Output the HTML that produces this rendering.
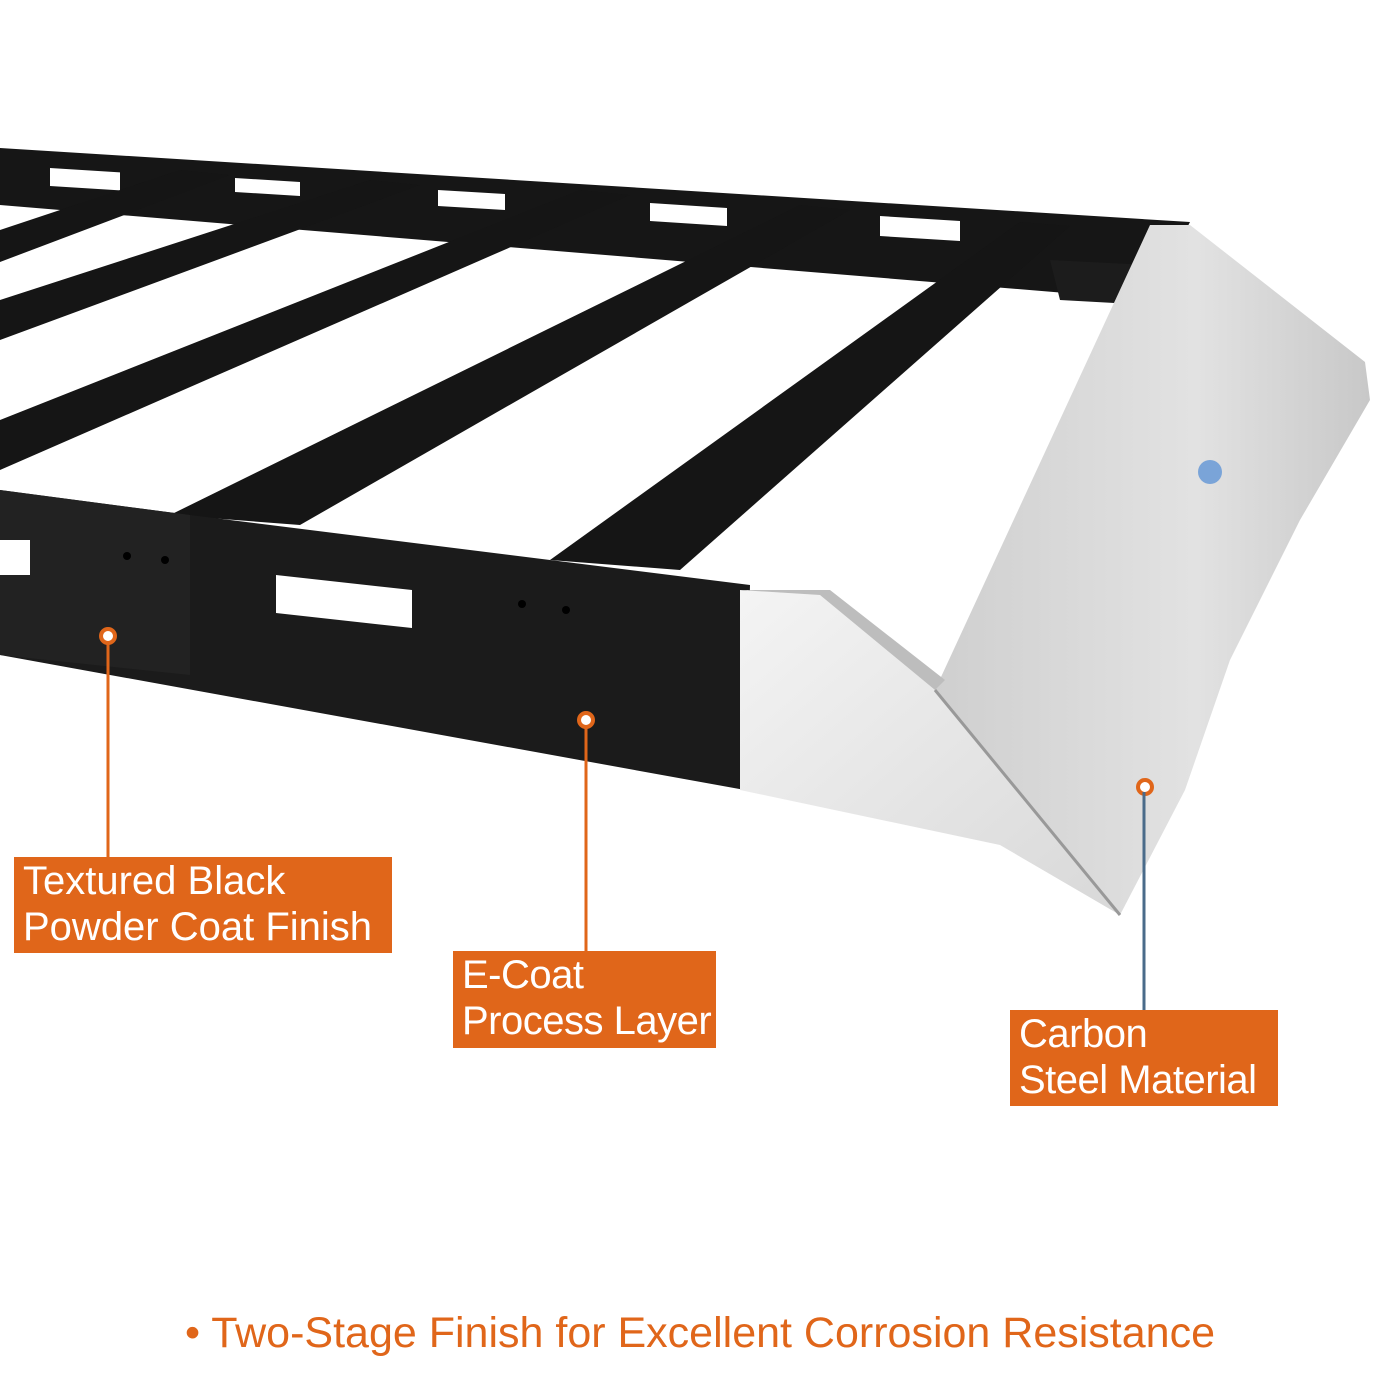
<!DOCTYPE html>
<html><head><meta charset="utf-8"><style>
html,body{margin:0;padding:0;background:#fff;}
.wrap{position:relative;width:1400px;height:1400px;overflow:hidden;background:#fff;font-family:"Liberation Sans","DejaVu Sans",sans-serif;}
.box{position:absolute;background:#e0661a;color:#fff;font-size:40px;line-height:46px;padding:1px 9px;box-sizing:border-box;white-space:nowrap;}
.foot{position:absolute;left:0;width:1400px;top:1309px;text-align:center;color:#e0661a;font-size:43px;}
</style></head><body><div class="wrap">
<svg width="1400" height="1400" style="position:absolute;left:0;top:0">
<defs>
<linearGradient id="s1" x1="0" y1="0" x2="1" y2="1"><stop offset="0" stop-color="#f4f4f4"/><stop offset="1" stop-color="#d8d8d8"/></linearGradient>
<linearGradient id="s2" x1="0" y1="0" x2="1" y2="0"><stop offset="0" stop-color="#cfcfcf"/><stop offset="0.6" stop-color="#e2e2e2"/><stop offset="1" stop-color="#c8c8c8"/></linearGradient>
</defs>
<polygon points="0,148 1190,222 1150,300 0,205" fill="#161616"/>
<rect x="50" y="165" width="70" height="18" fill="#fff" transform="skewY(3.5)"/>
<polygon points="235,178 300,182 300,196 235,192" fill="#fff"/>
<polygon points="438,190 505,194 505,210 438,206" fill="#fff"/>
<polygon points="650,203 727,208 727,226 650,221" fill="#fff"/>
<polygon points="880,216 960,221 960,241 880,236" fill="#fff"/>
<polygon points="0,230 180,170 230,175 0,262" fill="#151515"/>
<polygon points="0,300 370,180 420,185 0,340" fill="#151515"/>
<polygon points="0,420 580,190 630,195 0,470" fill="#151515"/>
<polygon points="170,515 800,205 850,210 300,525" fill="#151515"/>
<polygon points="550,560 1020,222 1070,226 680,570" fill="#151515"/>
<polygon points="1050,260 1150,265 1150,305 1060,300" fill="#1c1c1c"/>
<polygon points="0,490 190,515 750,585 745,790 0,655" fill="#1b1b1b"/>
<polygon points="0,490 190,515 190,675 0,655" fill="#222"/>
<rect x="0" y="540" width="30" height="35" fill="#fff"/>
<polygon points="276,575 412,590 412,628 276,613" fill="#fff"/>
<circle cx="127" cy="556" r="4" fill="#000"/><circle cx="165" cy="560" r="4" fill="#000"/>
<circle cx="522" cy="604" r="4" fill="#000"/><circle cx="566" cy="610" r="4" fill="#000"/>
<polygon points="740,590 820,595 935,690 1120,915 1000,845 740,790" fill="url(#s1)"/>
<polygon points="935,690 1150,225 1190,225 1365,362 1370,400 1300,520 1230,660 1185,790 1120,915" fill="url(#s2)"/>
<polygon points="740,590 820,595 935,690 945,680 830,590" fill="#bdbdbd"/>
<line x1="935" y1="690" x2="1120" y2="915" stroke="#999" stroke-width="3"/>
<circle cx="1210" cy="472" r="12" fill="#7aa4d8"/>
<circle cx="1145" cy="787" r="7" fill="#fff" stroke="#e0661a" stroke-width="4"/>
<line x1="108" y1="640" x2="108" y2="858" stroke="#e0661a" stroke-width="3"/>
<line x1="586" y1="724" x2="586" y2="952" stroke="#e0661a" stroke-width="3"/>
<line x1="1144" y1="792" x2="1144" y2="1011" stroke="#4a6b8a" stroke-width="3"/>
<circle cx="108" cy="636" r="7" fill="#fff" stroke="#e0661a" stroke-width="4"/>
<circle cx="586" cy="720" r="7" fill="#fff" stroke="#e0661a" stroke-width="4"/>
</svg>
<div class="box" style="left:14px;top:857px;width:378px;height:96px;">Textured Black<br>Powder Coat Finish</div>
<div class="box" style="left:453px;top:951px;width:263px;height:97px;letter-spacing:-0.5px;">E-Coat<br>Process Layer</div>
<div class="box" style="left:1010px;top:1010px;width:268px;height:96px;letter-spacing:-0.5px;">Carbon<br>Steel Material</div>
<div class="foot">• Two-Stage Finish for Excellent Corrosion Resistance</div>
</div></body></html>
